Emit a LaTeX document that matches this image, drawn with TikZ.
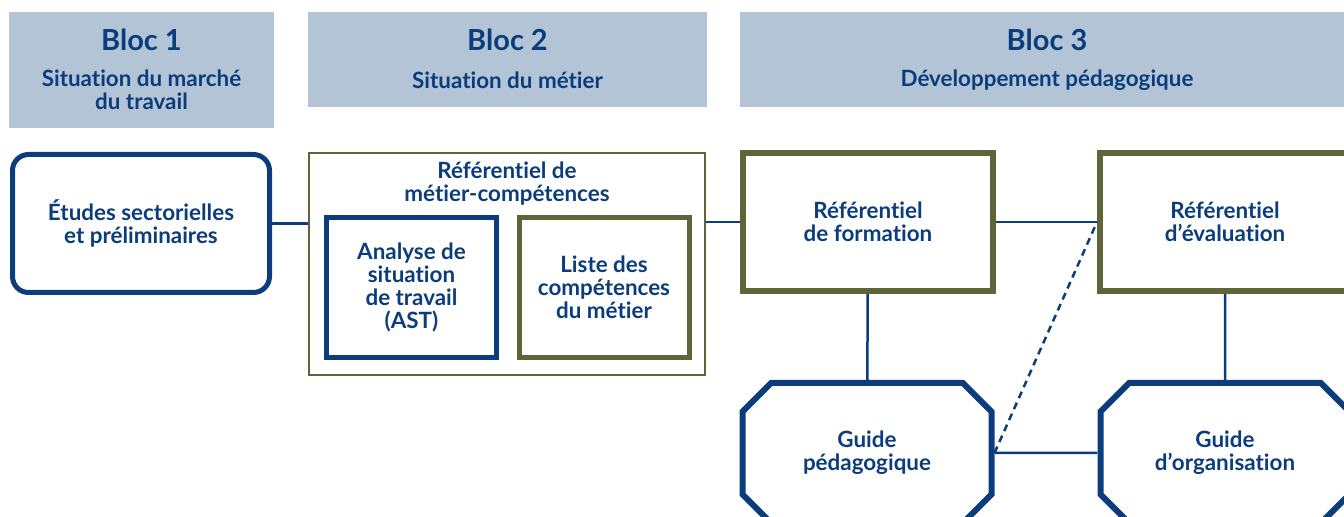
\documentclass[tikz,border=0pt]{standalone}
\usepackage{fontspec}
\setmainfont{Lato}[Ligatures={NoCommon}]
\usetikzlibrary{shapes.misc}
\definecolor{bleu}{HTML}{0B3C7C}
\definecolor{kaki}{HTML}{5F6439}
\definecolor{fondbloc}{HTML}{B3C4D6}
\begin{document}
\begin{tikzpicture}[
    x=0.5pt, y=-0.5pt,
    every node/.style={text=bleu, align=center, inner sep=0pt,
      font=\bfseries\fontsize{11.2}{11.5}\selectfont},
    entete/.style={fill=fondbloc, minimum height=47.5pt},
    titre/.style={font=\bfseries\fontsize{14.5}{16}\selectfont},
    cadre/.style={draw=bleu, line width=2.5pt, minimum width=85pt, minimum height=70pt},
    refbox/.style={draw=kaki, line width=3pt, minimum width=125pt, minimum height=69pt},
    guide/.style={chamfered rectangle, chamfered rectangle xsep=16pt, draw=bleu,
      line width=3pt, minimum width=124.5pt, minimum height=70pt},
    lien/.style={draw=bleu, line width=1.25pt},
  ]
  \clip (0,0) rectangle (1344,517);

  \node[entete, minimum width=132.5pt, minimum height=58pt] (bloc1) at (141.5,70) {};
  \node[titre] (titre1) at (141.5,40) {Bloc 1};
  \node (sous1) at (141.5,90) {Situation du marché\\du travail};
  \node[entete, minimum width=199.5pt] (bloc2) at (507.5,59.5) {};
  \node[titre] (titre2) at (507.5,40) {Bloc 2};
  \node (sous2) at (507.5,80) {Situation du métier};
  \node[entete, minimum width=307pt] (bloc3) at (1047,59.5) {};
  \node[titre] (titre3) at (1047,40) {Bloc 3};
  \node (sous3) at (1047,80) {Développement pédagogique};

  \node[draw=bleu, line width=2.5pt, rounded corners=8pt, minimum width=128.5pt,
    minimum height=69pt] (etudes) at (141,223.5) {Études sectorielles\\et préliminaires};
  \node[draw=kaki, line width=1pt, minimum width=198pt, minimum height=111pt] (rmc) at (507,264) {};
  \node (rmctitre) at (507,184) {Référentiel de\\métier-compétences};
  \node[cadre] (ast) at (411.5,287.5) {Analyse de\\situation\\de travail\\(AST)};
  \node[cadre, draw=kaki] (liste) at (604,287.5) {Liste des\\compétences\\du métier};

  \node[refbox] (formation) at (868,222) {Référentiel\\de formation};
  \node[refbox] (evaluation) at (1225,222) {Référentiel\\d’évaluation};
  \node[guide] (pedago) at (867,453) {Guide\\pédagogique};
  \node[guide] (organisation) at (1225,453) {Guide\\d’organisation};

  \draw[lien] (etudes.east) -- (etudes.east -| rmc.west);
  \draw[lien] (formation.west) -- (formation.west -| rmc.east);
  \draw[lien] (formation) -- (evaluation);
  \draw[lien] (formation) -- (pedago);
  \draw[lien] (evaluation) -- (organisation);
  \draw[lien] (pedago) -- (organisation);
  \draw[lien, dash pattern=on 3.5pt off 2.5pt] (pedago.east) -- (evaluation.west);
\end{tikzpicture}
\end{document}
